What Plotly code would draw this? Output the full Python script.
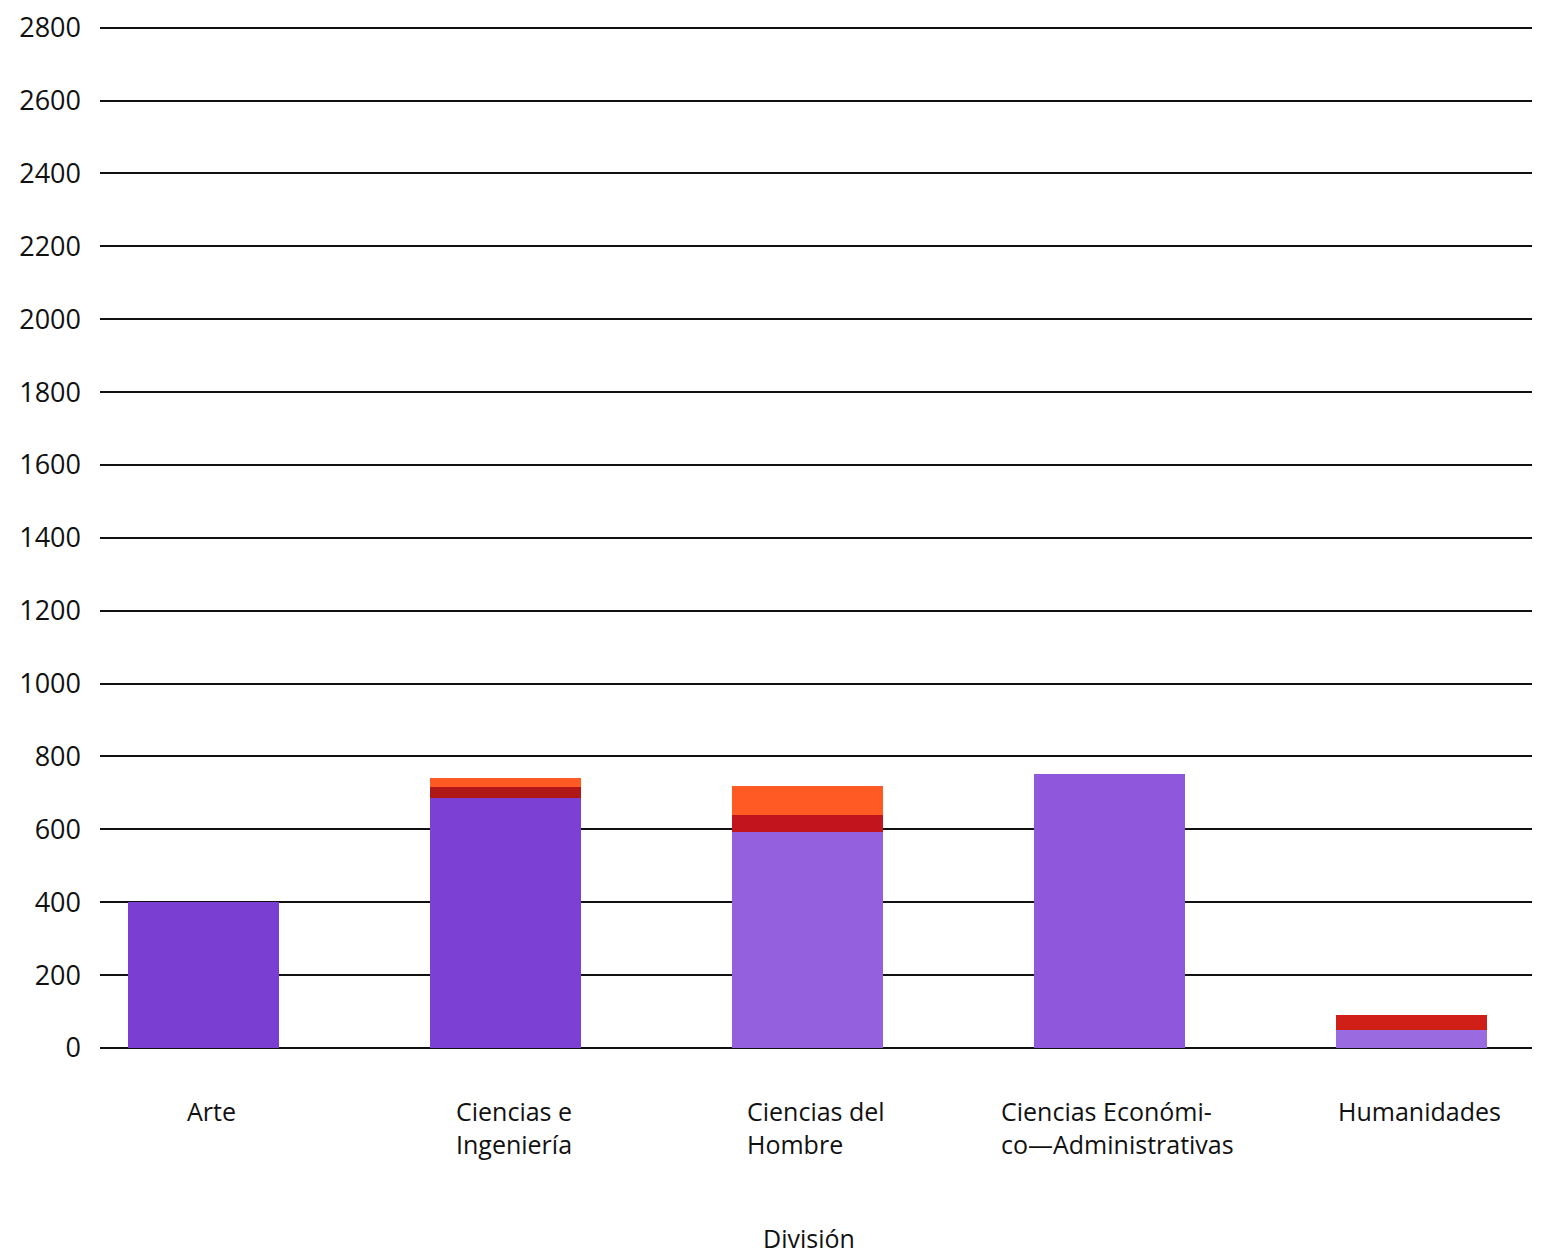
import plotly.graph_objects as go

categories = ["Arte", "Ciencias e<br>Ingeniería", "Ciencias del<br>Hombre",
              "Ciencias Económi-<br>co—Administrativas", "Humanidades"]
purple_vals = [400, 686, 594, 751, 49]
darkred_vals = [0, 31, 46, 0, 41]
orange_vals = [0, 24, 80, 0, 0]
y_ticks = list(range(0, 2801, 200))

purple_colors = ["#7b3ed3", "#7c40d4", "#9460dd", "#8f58dc", "#9a6ae0"]
darkred_colors = ["#b01818", "#b01818", "#c2141c", "#b01818", "#cf1f17"]

x = list(range(len(categories)))

fig = go.Figure()
fig.add_trace(go.Bar(x=x, y=purple_vals, marker=dict(color=purple_colors, line=dict(width=0)),
                     width=0.5, showlegend=False))
fig.add_trace(go.Bar(x=x, y=darkred_vals, marker=dict(color=darkred_colors, line=dict(width=0)),
                     width=0.5, showlegend=False))
fig.add_trace(go.Bar(x=x, y=orange_vals, marker=dict(color="#ff5a24", line=dict(width=0)),
                     width=0.5, showlegend=False))

font_fam = "Open Sans, Lato, sans-serif"
annotations = [dict(text=c, x=i, xref="x", y=0, yref="paper", yshift=-44, xshift=8,
                    yanchor="top", xanchor="center", align="left", showarrow=False,
                    font=dict(size=25, family=font_fam, color="#111111"))
               for i, c in enumerate(categories)]
annotations.append(dict(text="División", xref="paper", yref="paper", x=0.495, y=0,
                        yshift=-190, showarrow=False,
                        font=dict(size=25, family=font_fam, color="#111111"),
                        yanchor="middle"))

fig.update_layout(
    barmode="stack",
    width=1535, height=1247,
    margin=dict(l=92, r=11, t=16, b=207),
    plot_bgcolor="white", paper_bgcolor="white",
    font=dict(family=font_fam, color="#111111"),
    xaxis=dict(
        tickmode="array", tickvals=x, showticklabels=False, automargin=False,
        range=[-0.344, 4.398], showgrid=False, zeroline=False, showline=False, ticks="",
    ),
    yaxis=dict(
        range=[0, 2810], tickmode="array", tickvals=y_ticks, automargin=False,
        showgrid=True, gridcolor="#111111", gridwidth=2,
        zeroline=True, zerolinecolor="#111111", zerolinewidth=2,
        showline=False, ticks="", tickfont=dict(size=27, color="#111111"),
        ticklabelstandoff=18,
    ),
    annotations=annotations,
)

fig.write_html("out.html")
